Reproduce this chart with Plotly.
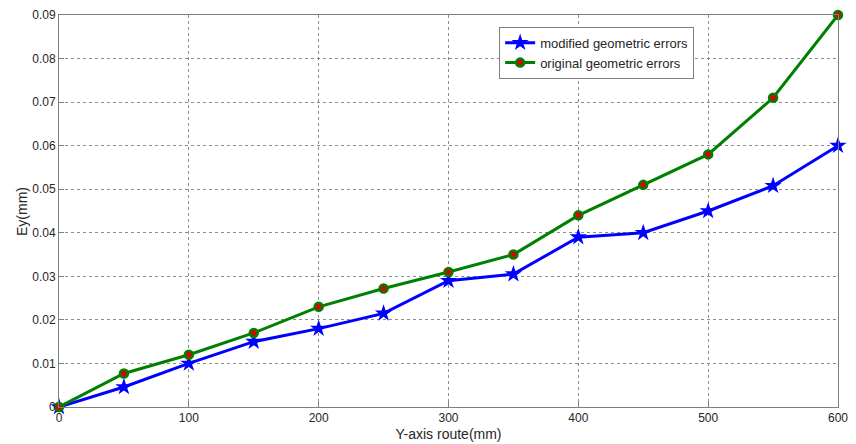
import plotly.graph_objects as go

x_route = [0, 50, 100, 150, 200, 250, 300, 350, 400, 450, 500, 550, 600]
modified_err = [0.0, 0.0046, 0.0100, 0.0150, 0.0180, 0.0215, 0.0290, 0.0305, 0.0390, 0.0400, 0.0450, 0.0508, 0.0600]
original_err = [0.0, 0.0077, 0.0120, 0.0170, 0.0230, 0.0272, 0.0310, 0.0350, 0.0440, 0.0510, 0.0580, 0.0710, 0.0900]
x_ticks = [0, 100, 200, 300, 400, 500, 600]
y_ticks = [0, 0.01, 0.02, 0.03, 0.04, 0.05, 0.06, 0.07, 0.08, 0.09]
y_tick_text = ["0", "0.01", "0.02", "0.03", "0.04", "0.05", "0.06", "0.07", "0.08", "0.09"]

FONT = "Liberation Sans, Arial, sans-serif"

fig = go.Figure()
fig.add_trace(go.Scatter(
    x=x_route, y=modified_err, mode="lines+markers", name="modified geometric errors",
    line=dict(color="#0000ff", width=3),
    marker=dict(symbol="star", size=13, color="#0000ff", line=dict(width=0)),
    cliponaxis=False,
))
fig.add_trace(go.Scatter(
    x=x_route, y=original_err, mode="lines+markers", name="original geometric errors",
    line=dict(color="#008000", width=3),
    marker=dict(symbol="circle", size=8, color="#e00000", line=dict(color="#008000", width=2.5)),
    cliponaxis=False,
))

axis_common = dict(
    showline=True, linecolor="#7f7f7f", linewidth=1, mirror=True,
    ticks="inside", ticklen=5, tickcolor="#7f7f7f",
    showgrid=True, gridcolor="#8c8c8c", griddash="dot", gridwidth=1,
    zeroline=False, automargin=False,
    tickfont=dict(family=FONT, size=12, color="#262626"),
    title_font=dict(family=FONT, size=14, color="#262626"),
)

fig.update_layout(
    width=856, height=444,
    margin=dict(l=59, r=18, t=15, b=37),
    paper_bgcolor="white", plot_bgcolor="white",
    font=dict(family=FONT, color="#262626"),
    xaxis=dict(range=[0, 600], tickvals=x_ticks, title=dict(text="Y-axis route(mm)", standoff=4), **axis_common),
    yaxis=dict(range=[0, 0.09], tickvals=y_ticks, ticktext=y_tick_text, **axis_common),
    legend=dict(
        x=0.565, y=0.97, xanchor="left", yanchor="top",
        bgcolor="white", bordercolor="#7f7f7f", borderwidth=1,
        font=dict(family=FONT, size=13, color="#262626"),
        tracegroupgap=0, itemwidth=30,
    ),
    showlegend=True,
    annotations=[dict(
        text="Ey(mm)", textangle=-90, xref="paper", yref="paper",
        x=-0.0475, y=0.5, xanchor="center", yanchor="middle", showarrow=False,
        font=dict(family=FONT, size=14, color="#262626"),
    )],
)

fig.write_html("out.html")
